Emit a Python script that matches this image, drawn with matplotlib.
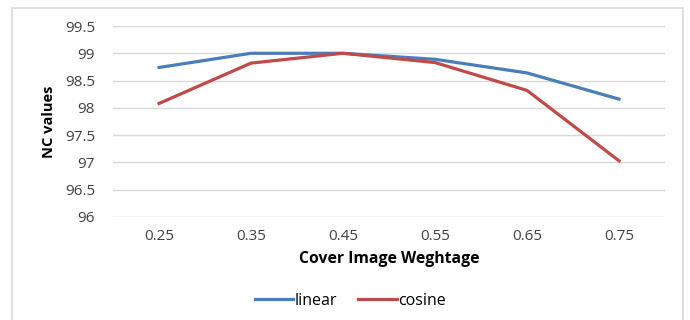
import matplotlib
matplotlib.use("Agg")
import matplotlib.pyplot as plt
from matplotlib.patches import Rectangle

categories = ["0.25", "0.35", "0.45", "0.55", "0.65", "0.75"]
linear = [98.74, 99.0, 99.0, 98.89, 98.64, 98.16]
cosine = [98.08, 98.82, 99.0, 98.83, 98.32, 97.03]
yticks = [96, 96.5, 97, 97.5, 98, 98.5, 99, 99.5]
ytick_labels = ["96", "96.5", "97", "97.5", "98", "98.5", "99", "99.5"]

plt.rcParams['font.family'] = ['Open Sans', 'DejaVu Sans']

fig = plt.figure(figsize=(6.9, 3.2), dpi=100)
fig.patches.append(Rectangle((12/690, -0.1), (683-12)/690, 1.1 - 8/320,
                             transform=fig.transFigure, fill=False,
                             edgecolor="#d9d9d9", linewidth=1.2))

ax = fig.add_axes([113/690, 1-217/320, (665-113)/690, (217-26)/320])
x = list(range(len(categories)))
ax.plot(x, linear, color="#4a7ebb", linewidth=2.3, label="linear")
ax.plot(x, cosine, color="#be4b48", linewidth=2.3, label="cosine")

ax.set_xlim(-0.5, len(categories) - 0.5)
ax.set_ylim(96, 99.5)
ax.set_yticks(yticks)
ax.set_yticklabels(ytick_labels)
ax.set_xticks(x)
ax.set_xticklabels(categories)
ax.grid(axis="y", color="#d9d9d9", linewidth=1.0)
ax.set_axisbelow(True)
for s in ax.spines.values():
    s.set_visible(False)
ax.tick_params(length=0, labelsize=11, colors="#404040")
ax.tick_params(axis="x", pad=9)
ax.tick_params(axis="y", pad=13)

ax.set_xlabel("Cover Image Weghtage", fontsize=11.3, fontweight="bold", labelpad=5)
ax.set_ylabel("NC values", fontsize=10.5, fontweight="bold", labelpad=6)

fig.legend(loc="center", bbox_to_anchor=(0.508, 1-301/320), ncol=2, frameon=False,
           fontsize=11.5, handlelength=2.4, handletextpad=0.1, columnspacing=1.3)

fig.savefig("out.png", dpi=100)
